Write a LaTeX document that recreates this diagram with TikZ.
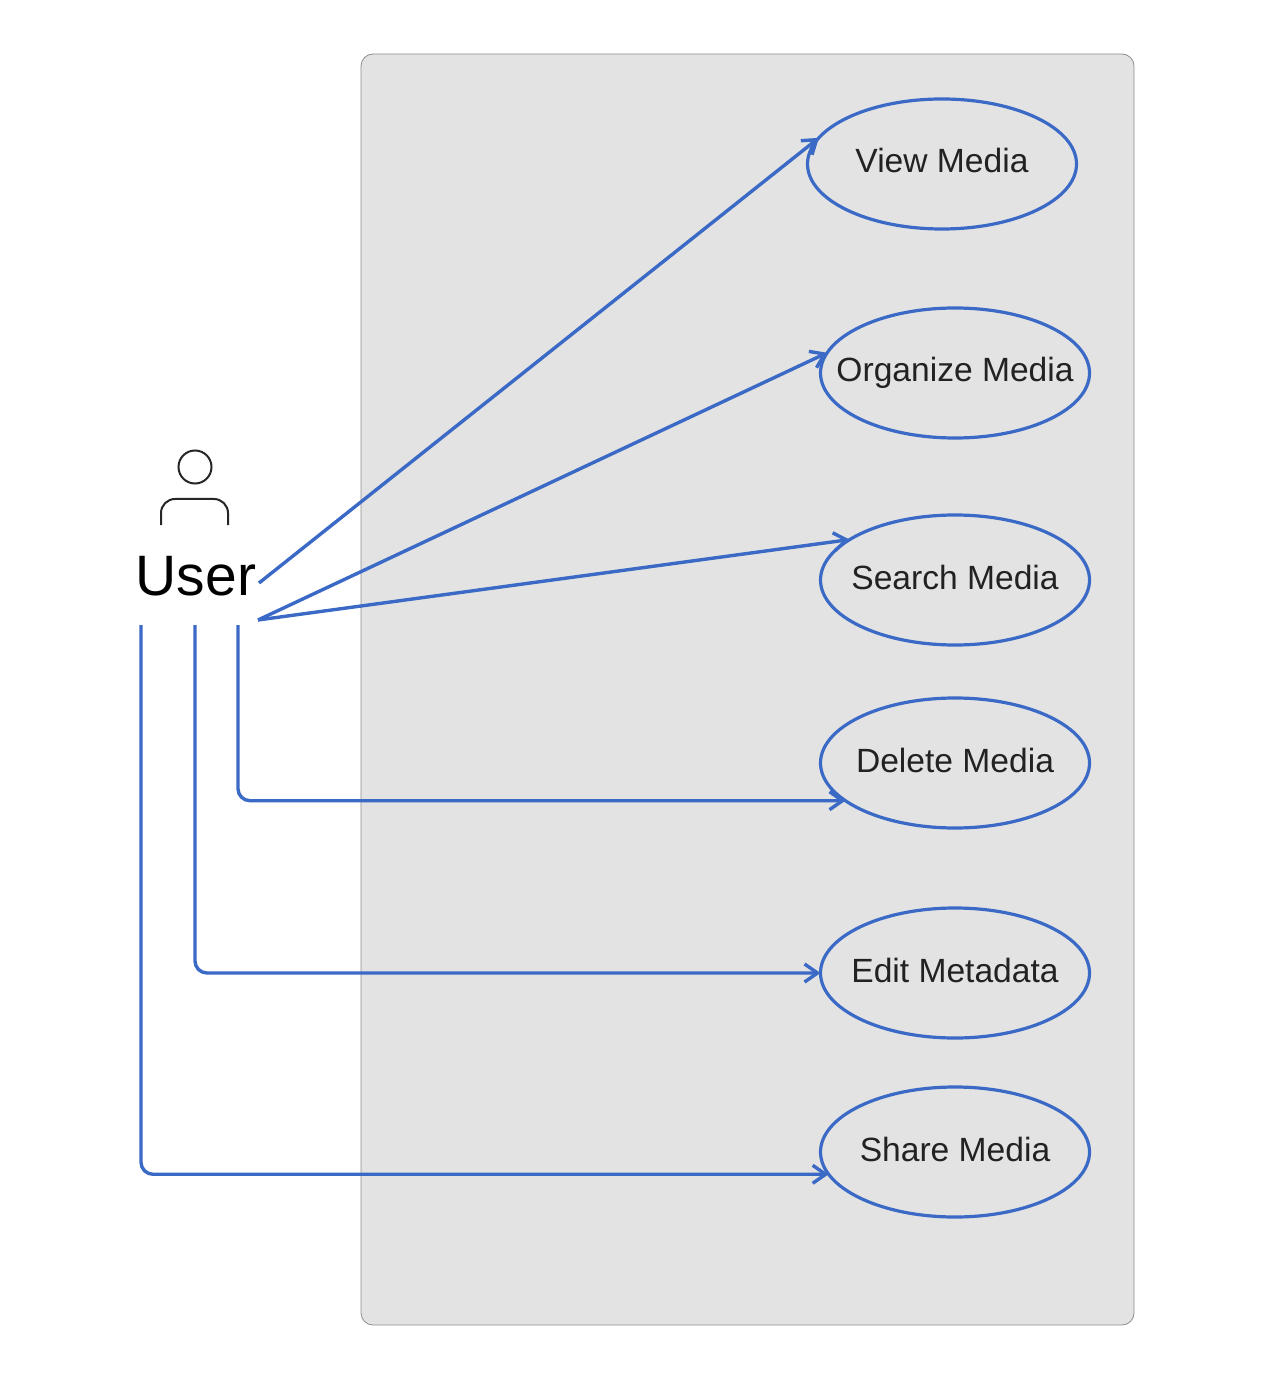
\documentclass[tikz,border=0pt]{standalone}
\usepackage{fontspec}
\setmainfont{Liberation Sans}
\usetikzlibrary{shapes.geometric,arrows.meta,positioning}
\definecolor{linkblue}{HTML}{3B69C6}
\definecolor{panelgray}{HTML}{E3E3E3}
\definecolor{labelink}{HTML}{222222}

\begin{document}
\begin{tikzpicture}[x=0.5pt, y=-0.5pt, ->, >={Straight Barb[length=6.5pt,width=9pt]}, line width=1.7pt]
\tikzstyle{usecase}=[ellipse,draw=linkblue,line width=1.6pt,minimum width=134.5pt,minimum height=65pt,inner xsep=-20pt,inner ysep=0pt,outer sep=0pt,text=labelink,font=\fontsize{16.8}{20}\selectfont,text height=12pt,text depth=3pt]
\tikzstyle{link}=[draw=linkblue,rounded corners=6pt]
\tikzstyle{figure}=[-,draw=black!85,line width=1pt]
\useasboundingbox (0,0) rectangle (1270,1384);
\node[draw=black!45,fill=panelgray,line width=0.4pt,rounded corners=6pt,minimum width=386.5pt,minimum height=635.5pt,inner sep=0pt] (system) at (747.5,689.5) {};
\node[usecase]  (view) at (942,164)  {View Media};
\node[usecase]  (organize)[below of=view,node distance=104.5pt,xshift=6.5pt]  {Organize Media};
\node[usecase]  (search)[below of=organize,node distance=103.5pt]  {Search Media};
\node[usecase]  (delete)[below of=search,node distance=91.5pt]  {Delete Media};
\node[usecase]  (edit)[below of=delete,node distance=105pt]  {Edit Metadata};
\node[usecase]  (share)[below of=edit,node distance=89.5pt]  {Share Media};
\node[circle,figure,minimum size=16.5pt,inner sep=0pt] (head) at (195,467) {};
\node[inner sep=0pt,font=\fontsize{28.5}{32}\selectfont] (user) at (196,576) {User};
\draw[figure,rounded corners=7pt] (161,525) -- (161,499) -- (228,499) -- (228,525);
\coordinate (upper) at (259,583);
\coordinate (fan) at (258,620);
\coordinate (right) at (238,625);
\coordinate (middle) at (195,625);
\coordinate (left) at (141,625);
\path
(upper) edge[link] (view.168)
(fan)   edge[link] (organize.171)
(fan)   edge[link] (search.159);
\draw[link] (right) |- (delete.199);
\draw[link] (middle) |- (edit.west);
\draw[link] (left) |- (share.190);
\end{tikzpicture}
\end{document}
